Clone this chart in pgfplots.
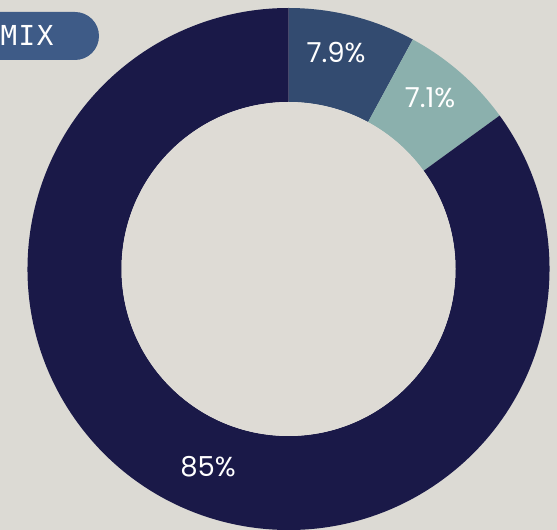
\documentclass[border=0pt]{standalone}
\usepackage{pgfplots}
\pgfplotsset{compat=1.18}
\usepackage{pgfplotstable}
\usepackage{fontspec}
\setmainfont{Poppins}
\newfontfamily\monofont[LetterSpace=6]{DejaVu Sans Mono}
\definecolor{bg}{HTML}{DCDAD4}
\definecolor{inner}{HTML}{DEDBD5}
\definecolor{sA}{HTML}{334B70}
\definecolor{sB}{HTML}{8BB0AD}
\definecolor{sC}{HTML}{1A1948}
\definecolor{boxc}{HTML}{3E5B87}
\pgfplotstableread{
share
7.9
7.1
85
}\shares
\newcommand\seg[3]{\fill[#3] (axis cs:{261*cos(#1)},{261*sin(#1)}) arc[start angle=#1, end angle=#2, radius=261pt] -- (axis cs:{167*cos(#2)},{167*sin(#2)}) arc[start angle=#2, end angle=#1, radius=167pt] -- cycle;}
\begin{document}%
\begin{tikzpicture}
\pgfplotstablegetelem{0}{share}\of\shares \pgfmathsetmacro\aA{90-3.6*\pgfplotsretval}
\pgfplotstablegetelem{1}{share}\of\shares \pgfmathsetmacro\aB{\aA-3.6*\pgfplotsretval}
\pgfplotstablegetelem{2}{share}\of\shares \pgfmathsetmacro\aC{\aB-3.6*\pgfplotsretval}
\path[use as bounding box, clip] (0,0) rectangle (557pt,530pt);
\fill[bg] (0,0) rectangle (557pt,530pt);
\begin{axis}[at={(0,0)}, anchor=south west, x=1pt, y=1pt,
  xmin=-288.5, xmax=268.5, ymin=-261, ymax=269, hide axis, clip=false]
\seg{90}{\aA}{sA}
\seg{\aA}{\aB}{sB}
\seg{\aB}{\aC}{sC}
\fill[inner] (axis cs:0,0) circle[radius=167pt];
\node[white, font=\fontsize{27.5}{30}\selectfont] at (axis cs:47.5,216) {7.9\%};
\node[white, font=\fontsize{27.5}{30}\selectfont] at (axis cs:141.5,171) {7.1\%};
\node[white, font=\fontsize{27.5}{30}\selectfont] at (axis cs:-80.5,-198) {85\%};
\fill[boxc, rounded corners=24pt] (axis cs:-340,209) rectangle (axis cs:-189.5,257);
\node[white, font=\monofont\fontsize{27.5}{30}\selectfont] at (axis cs:-261.5,234) {MIX};
\end{axis}
\end{tikzpicture}%
\end{document}
